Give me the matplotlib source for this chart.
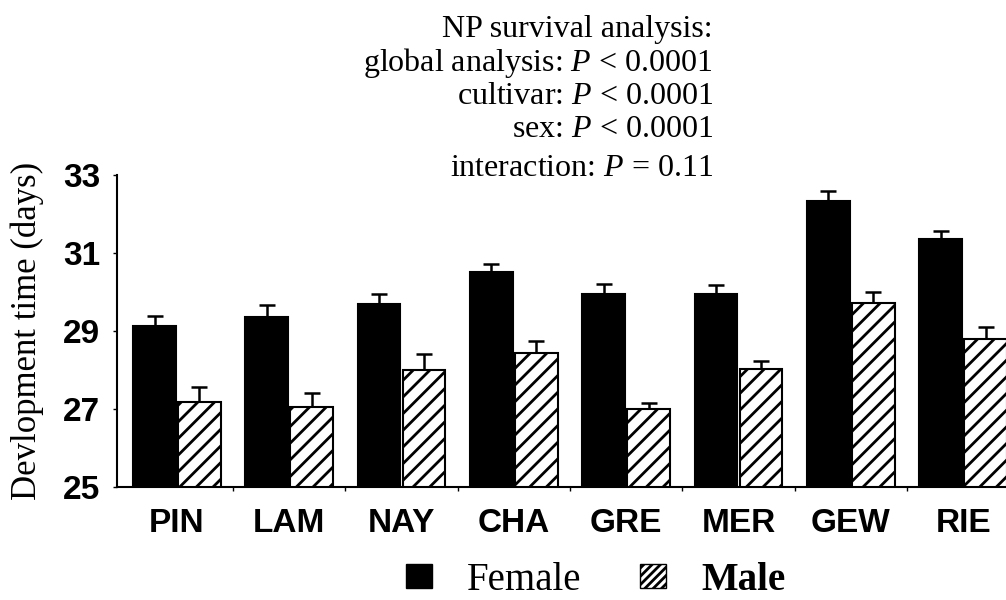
import numpy as np
import matplotlib.pyplot as plt
from matplotlib.patches import Patch

# cultivars and mean development time (days)
cultivars = ["PIN", "LAM", "NAY", "CHA", "GRE", "MER", "GEW", "RIE"]
female = [29.14, 29.35, 29.69, 30.51, 29.95, 29.96, 32.33, 31.36]
female_err = [0.24, 0.32, 0.25, 0.22, 0.25, 0.21, 0.27, 0.21]
male = [27.17, 27.05, 28.00, 28.44, 27.00, 28.02, 29.73, 28.79]
male_err = [0.39, 0.35, 0.41, 0.30, 0.15, 0.20, 0.26, 0.32]

stats_lines = ["NP survival analysis:",
               "global analysis: $\\it{P}$ < 0.0001",
               "cultivar: $\\it{P}$ < 0.0001",
               "sex: $\\it{P}$ < 0.0001",
               "interaction: $\\it{P}$ = 0.11"]

plt.rcParams['hatch.linewidth'] = 2.0
plt.rcParams['mathtext.fontset'] = 'custom'
plt.rcParams['mathtext.it'] = 'Liberation Serif:italic'
plt.rcParams['mathtext.rm'] = 'Liberation Serif'

fig = plt.figure(figsize=(10.06, 6.0), dpi=100)
ax = fig.add_axes([117/1006, 113/600, 1 - 117/1006, 312/600])

x = np.arange(len(cultivars))
w = 0.38
off = 0.2

ax.bar(x - off, female, w, color="black", edgecolor="black", linewidth=1.5, zorder=2)
ax.bar(x + off, male, w, color="white", edgecolor="black", hatch="//", linewidth=1.5, zorder=2)

zeros = np.zeros(len(x))
ax.errorbar(x - off, female, yerr=[zeros, female_err], fmt="none", ecolor="black",
            elinewidth=1.8, capsize=6, capthick=1.8, zorder=1)
ax.errorbar(x + off, male, yerr=[zeros, male_err], fmt="none", ecolor="black",
            elinewidth=1.8, capsize=6, capthick=1.8, zorder=1)

ax.set_ylim(25, 33)
ax.set_xlim(-0.534, 7.382)
ax.set_yticks([25, 27, 29, 31, 33])
ax.set_xticks(x)
ax.set_xticklabels(cultivars)
ax.set_xticks(x[:-1] + 0.5, minor=True)
ax.tick_params(axis="x", which="major", length=0, pad=15)
ax.tick_params(axis="x", which="minor", length=3, width=1)
ax.tick_params(axis="y", length=3, width=1, pad=9)
for lab in ax.get_xticklabels() + ax.get_yticklabels():
    lab.set_fontfamily("Liberation Sans")
    lab.set_fontweight("bold")
    lab.set_fontsize(24)

for s in ["top", "right"]:
    ax.spines[s].set_visible(False)
for s in ["left", "bottom"]:
    ax.spines[s].set_linewidth(1.5)

ax.set_ylabel("Devlopment time (days)", fontfamily="Liberation Serif", fontsize=25, labelpad=14)

ys = [37, 71, 104, 137, 176]
for line, yy in zip(stats_lines, ys):
    fig.text(713/1006, 1 - yy/600, line, ha="right", va="baseline",
             fontfamily="Liberation Serif", fontsize=23)

handles = [Patch(facecolor="black", edgecolor="black"),
           Patch(facecolor="white", edgecolor="black", hatch="////", linewidth=1)]
leg = fig.legend(handles, ["Female", "Male"], loc="center", bbox_to_anchor=(0.592, 0.033),
                 ncol=2, frameon=False, handlelength=0.67, handleheight=0.6,
                 handletextpad=0.9, columnspacing=1.5,
                 prop={"family": "Liberation Serif", "size": 28})
leg.get_texts()[1].set_fontweight("bold")

fig.savefig("out.png", dpi=100)
